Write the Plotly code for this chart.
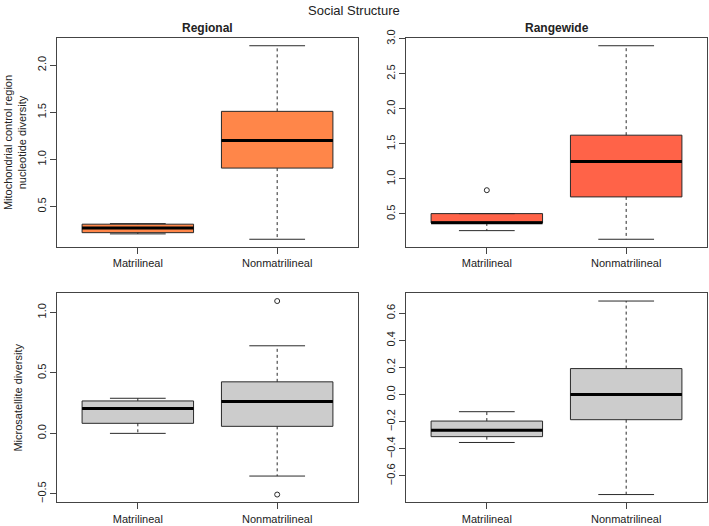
import plotly.graph_objects as go

groups = ["Matrilineal", "Nonmatrilineal"]
positions = [1, 2]

# Regional mtDNA
reg_mt_lower = [0.21, 0.153]
reg_mt_q1 = [0.223, 0.908]
reg_mt_median = [0.273, 1.202]
reg_mt_q3 = [0.313, 1.51]
reg_mt_upper = [0.319, 2.206]
reg_mt_out = [[], []]

# Rangewide mtDNA
rng_mt_lower = [0.262, 0.139]
rng_mt_q1 = [0.372, 0.743]
rng_mt_median = [0.376, 1.247]
rng_mt_q3 = [0.505, 1.624]
rng_mt_upper = [0.505, 2.9]
rng_mt_out = [[0.839], []]

# Regional microsatellite
reg_ms_lower = [0.0, -0.353]
reg_ms_q1 = [0.083, 0.058]
reg_ms_median = [0.205, 0.263]
reg_ms_q3 = [0.268, 0.426]
reg_ms_upper = [0.29, 0.724]
reg_ms_out = [[], [1.094, -0.506]]

# Rangewide microsatellite
rng_ms_lower = [-0.353, -0.737]
rng_ms_q1 = [-0.31, -0.185]
rng_ms_median = [-0.262, 0.0]
rng_ms_q3 = [-0.195, 0.192]
rng_ms_upper = [-0.126, 0.69]
rng_ms_out = [[], []]

panels = [
    dict(lo=reg_mt_lower, q1=reg_mt_q1, med=reg_mt_median, q3=reg_mt_q3, up=reg_mt_upper, out=reg_mt_out,
         color="#FF8649", xd=[57/709, 358/709], yd=[1-247/526, 1-38/526],
         ticks=[0.5, 1.0, 1.5, 2.0]),
    dict(lo=rng_mt_lower, q1=rng_mt_q1, med=rng_mt_median, q3=rng_mt_q3, up=rng_mt_upper, out=rng_mt_out,
         color="#FF6348", xd=[406/709, 707/709], yd=[1-247/526, 1-38/526],
         ticks=[0.5, 1.0, 1.5, 2.0, 2.5, 3.0]),
    dict(lo=reg_ms_lower, q1=reg_ms_q1, med=reg_ms_median, q3=reg_ms_q3, up=reg_ms_upper, out=reg_ms_out,
         color="#CCCCCC", xd=[57/709, 358/709], yd=[1-502.3/526, 1-293.3/526],
         ticks=[-0.5, 0.0, 0.5, 1.0]),
    dict(lo=rng_ms_lower, q1=rng_ms_q1, med=rng_ms_median, q3=rng_ms_q3, up=rng_ms_upper, out=rng_ms_out,
         color="#CCCCCC", xd=[406/709, 707/709], yd=[1-502.3/526, 1-293.3/526],
         ticks=[-0.6, -0.4, -0.2, 0.0, 0.2, 0.4, 0.6]),
]

BOXW = 0.8
CAPW = 0.4
LINE = "#2a2a2a"
AX = "#444444"
FONT = "Liberation Sans, Arial, sans-serif"

fig = go.Figure()
layout = dict(
    width=709, height=526,
    margin=dict(l=0, r=0, t=0, b=0),
    paper_bgcolor="white", plot_bgcolor="white",
    showlegend=False,
    font=dict(family=FONT, size=11, color="#222222"),
)

for i, p in enumerate(panels):
    n = i + 1
    xa = "x" if n == 1 else f"x{n}"
    ya = "y" if n == 1 else f"y{n}"
    outs = [v for o in p["out"] for v in o]
    data_min = min(p["lo"] + outs)
    data_max = max(p["up"] + outs)
    span = data_max - data_min
    yr = [data_min - 0.04 * span, data_max + 0.04 * span]

    for j, pos in enumerate(positions):
        # box
        fig.add_trace(go.Box(
            x=[pos], q1=[p["q1"][j]], median=[p["med"][j]], q3=[p["q3"][j]],
            lowerfence=[p["q1"][j]], upperfence=[p["q3"][j]],
            width=BOXW, whiskerwidth=0,
            fillcolor=p["color"], line=dict(color=LINE, width=1),
            boxpoints=False, xaxis=xa, yaxis=ya, hoverinfo="skip",
        ))
        # whiskers (dashed)
        fig.add_trace(go.Scatter(
            x=[pos, pos, None, pos, pos],
            y=[p["q3"][j], p["up"][j], None, p["q1"][j], p["lo"][j]],
            mode="lines", line=dict(color=LINE, width=1, dash="3px,3px"),
            xaxis=xa, yaxis=ya, hoverinfo="skip",
        ))
        # caps
        fig.add_trace(go.Scatter(
            x=[pos - CAPW / 2, pos + CAPW / 2, None, pos - CAPW / 2, pos + CAPW / 2],
            y=[p["up"][j], p["up"][j], None, p["lo"][j], p["lo"][j]],
            mode="lines", line=dict(color=LINE, width=1),
            xaxis=xa, yaxis=ya, hoverinfo="skip",
        ))
        # median (thick)
        fig.add_trace(go.Scatter(
            x=[pos - BOXW / 2, pos + BOXW / 2], y=[p["med"][j], p["med"][j]],
            mode="lines", line=dict(color="black", width=3),
            xaxis=xa, yaxis=ya, hoverinfo="skip",
        ))
        # outliers
        if p["out"][j]:
            fig.add_trace(go.Scatter(
                x=[pos] * len(p["out"][j]), y=p["out"][j], mode="markers",
                marker=dict(symbol="circle-open", size=5, color=LINE, line=dict(width=1)),
                xaxis=xa, yaxis=ya, hoverinfo="skip",
            ))

    layout["xaxis" if n == 1 else f"xaxis{n}"] = dict(
        domain=p["xd"], anchor=ya, range=[0.42, 2.58], automargin=False,
        tickvals=positions, ticktext=groups, ticks="outside", ticklen=6,
        tickcolor=AX, showgrid=False, zeroline=False,
        showline=True, mirror=True, linecolor=AX, linewidth=1,
        tickfont=dict(size=11, color="#222222"),
    )
    layout["yaxis" if n == 1 else f"yaxis{n}"] = dict(
        domain=p["yd"], anchor=xa, range=yr, automargin=False,
        tickvals=p["ticks"], ticktext=[f"{t:.1f}".replace("-", "\u2212") for t in p["ticks"]],
        tickangle=-90, ticks="outside", ticklen=6, tickcolor=AX,
        showgrid=False, zeroline=False,
        showline=True, mirror=True, linecolor=AX, linewidth=1,
        tickfont=dict(size=11, color="#222222"),
    )

layout["yaxis"]["title"] = dict(text="Mitochondrial control region<br>nucleotide diversity",
                                font=dict(size=11), standoff=6)
layout["yaxis3"]["title"] = dict(text="Microsatellite diversity", font=dict(size=11), standoff=10)

layout["annotations"] = [
    dict(text="Social Structure", x=354 / 709, y=1 - 10 / 526, xref="paper", yref="paper",
         showarrow=False, font=dict(size=13), xanchor="center", yanchor="middle"),
    dict(text="<b>Regional</b>", x=(57 + 358) / 2 / 709, y=1 - 28 / 526, xref="paper", yref="paper",
         showarrow=False, font=dict(size=12), xanchor="center", yanchor="middle"),
    dict(text="<b>Rangewide</b>", x=(406 + 707) / 2 / 709, y=1 - 28 / 526, xref="paper", yref="paper",
         showarrow=False, font=dict(size=12), xanchor="center", yanchor="middle"),
]

fig.update_layout(**layout)
fig.write_html("out.html", config={"displayModeBar": False, "staticPlot": True},
               post_script="document.body.style.margin='0';document.body.style.overflow='hidden';")
